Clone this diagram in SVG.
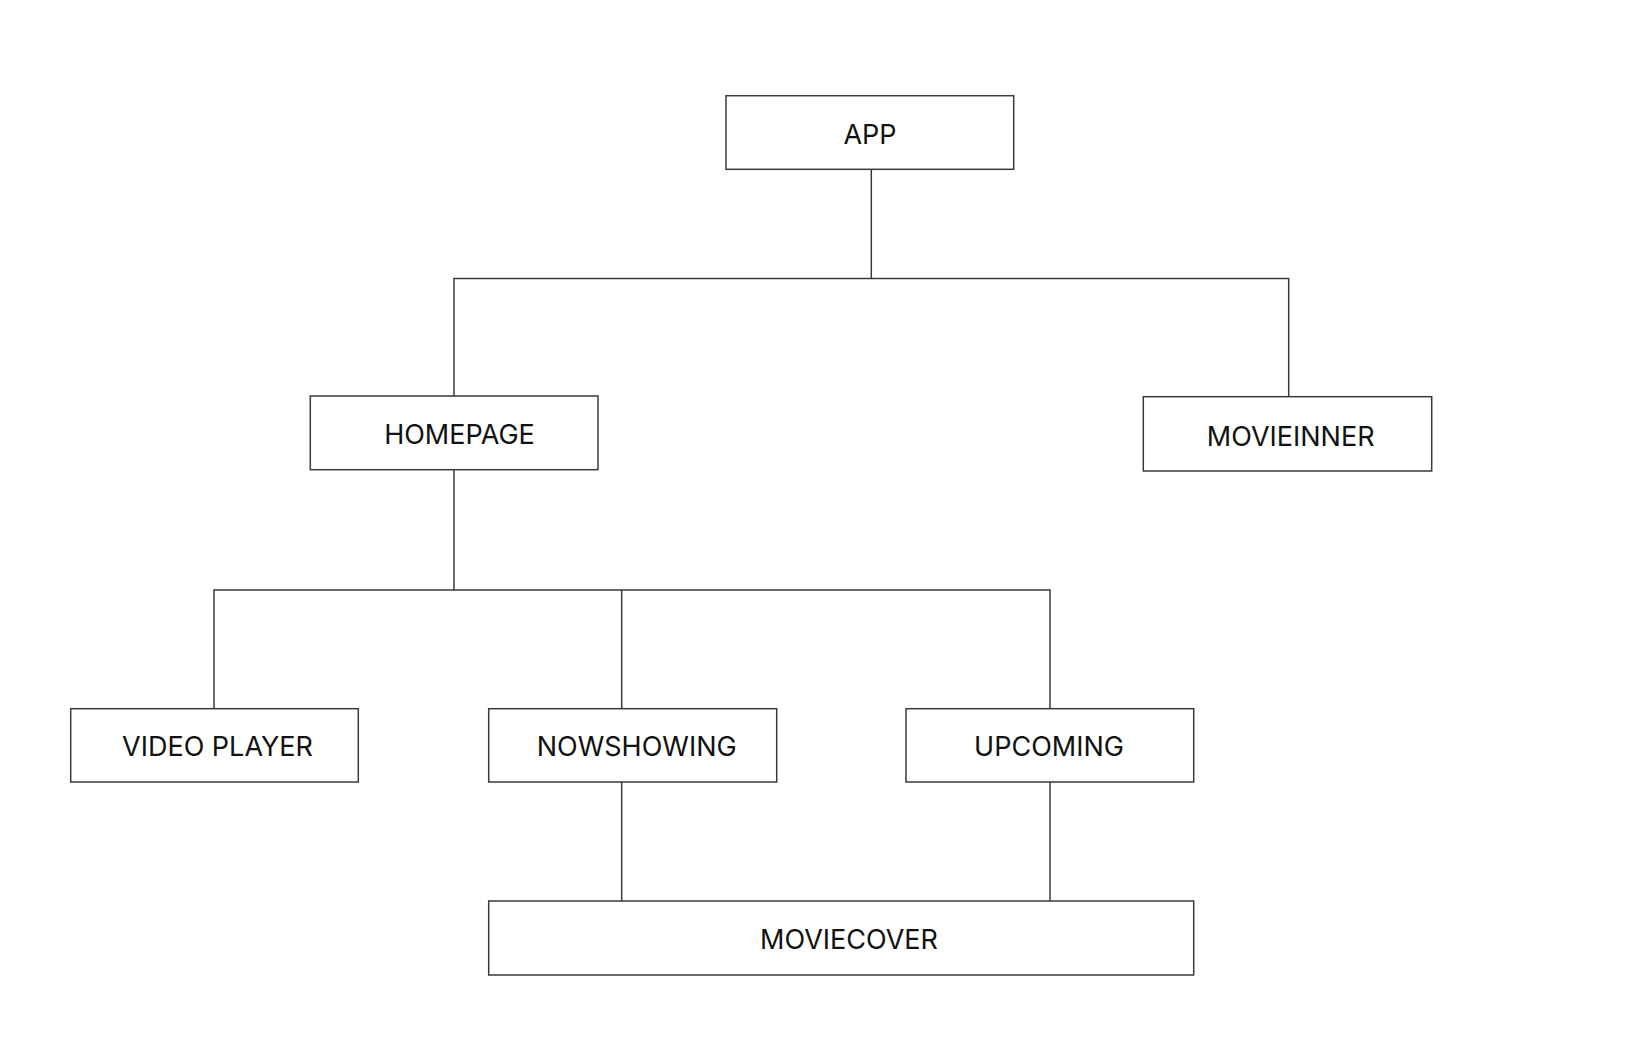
<svg xmlns="http://www.w3.org/2000/svg" width="1634" height="1064" viewBox="0 0 1634 1064">
<style>
.box{fill:#ffffff;stroke:#3a3a3a;stroke-width:1.5}
.lbl{font-family:Inter,"Liberation Sans",sans-serif;font-size:27px;fill:#111111;text-anchor:middle}
.conn{fill:none;stroke:#3a3a3a;stroke-width:1.5}
</style>
<rect width="1634" height="1064" fill="#ffffff"/>
<g id="connectors">
<path class="conn" d="M871.3 169.3 V278.5"/>
<path class="conn" d="M454 396 V278.5 H1288.7 V396.7"/>
<path class="conn" d="M454 469.7 V590"/>
<path class="conn" d="M214 708.7 V590 H1050 V708.7"/>
<path class="conn" d="M621.7 590 V708.7"/>
<path class="conn" d="M621.7 782 V901"/>
<path class="conn" d="M1050 782 V901"/>
</g>
<g id="app"><rect class="box" x="726" y="95.7" width="287.7" height="73.6"/><text class="lbl" x="870" y="144.3">APP</text></g>
<g id="homepage"><rect class="box" x="310.3" y="396" width="287.7" height="73.7"/><text class="lbl" x="459.5" y="443.7">HOMEPAGE</text></g>
<g id="movieinner"><rect class="box" x="1143.3" y="396.7" width="288.4" height="74.3"/><text class="lbl" x="1290.7" y="445.5">MOVIEINNER</text></g>
<g id="videoplayer"><rect class="box" x="70.7" y="708.7" width="287.6" height="73.3"/><text class="lbl" x="217.5" y="756.3">VIDEO PLAYER</text></g>
<g id="nowshowing"><rect class="box" x="488.7" y="708.7" width="288" height="73.3"/><text class="lbl" x="636.7" y="756">NOWSHOWING</text></g>
<g id="upcoming"><rect class="box" x="906" y="708.7" width="287.7" height="73.3"/><text class="lbl" x="1049" y="756">UPCOMING</text></g>
<g id="moviecover"><rect class="box" x="488.7" y="901" width="705" height="74"/><text class="lbl" x="849" y="948.5">MOVIECOVER</text></g>
</svg>
